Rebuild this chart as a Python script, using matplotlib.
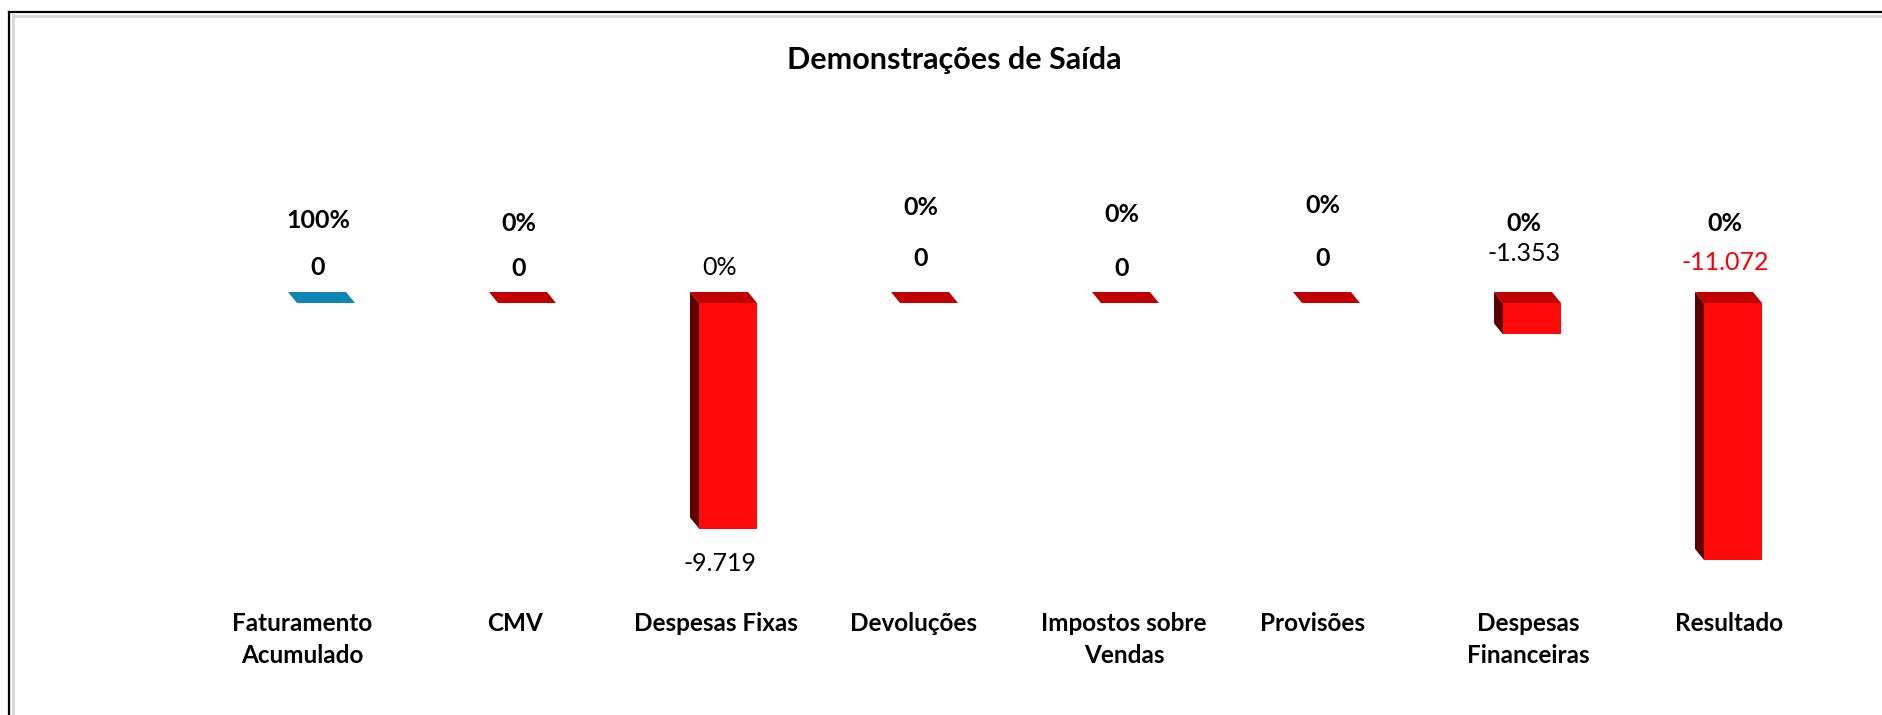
import matplotlib.pyplot as plt
from matplotlib.patches import Polygon
from matplotlib.lines import Line2D

plt.rcParams['font.family'] = ['Lato', 'DejaVu Sans']

categories = ['Faturamento\nAcumulado', 'CMV', 'Despesas Fixas', 'Devoluções',
              'Impostos sobre\nVendas', 'Provisões', 'Despesas\nFinanceiras', 'Resultado']
values = [0, 0, -9719, 0, 0, 0, -1353, -11072]
percents = [100, 0, 0, 0, 0, 0, 0, 0]

# label placement in pixels above the zero line (excel put them a bit all over the place)
pct_offsets = [83, 80, 36, 96, 89, 98, 80, 80]
val_offsets = [36, 35, -260, 45, 35, 45, 50, 41]
pct_bold = [True, True, False, True, True, True, True, True]
cat_dx = [-24, -12, -12, -15, -6, -18, -4, -4]

W, H = 1883, 715
BLUE = '#0f86b6'
RED_FRONT = '#ff0a0a'
RED_TOP = '#c00000'
RED_SIDE = '#5c0000'
BAR_W = 58 / 201
DEPTH = (-9, 11)  # px, back face goes up-left


def fmt(v):
    return f"{v:,}".replace(',', '.')


fig = plt.figure(figsize=(W / 100, H / 100), dpi=100)
ax = fig.add_axes([225.5 / W, (H - 600) / H, 1608 / W, 500 / H])
ax.set_xlim(-0.5, 7.5)
ax.set_ylim(-12800, 8750)
ax.axis('off')

# pixel -> data conversion for the fake 3d depth
p0 = ax.transData.transform((0, 0))
p1 = ax.transData.transform((1, 1000))
ddx = DEPTH[0] / (p1[0] - p0[0])
ddy = DEPTH[1] / (p1[1] - p0[1]) * 1000

for i, v in enumerate(values):
    left, right = i - BAR_W / 2, i + BAR_W / 2
    top_col = BLUE if i == 0 else RED_TOP
    ax.add_patch(Polygon([(left, 0), (right, 0), (right + ddx, ddy), (left + ddx, ddy)],
                         closed=True, facecolor=top_col, edgecolor='none'))
    if v != 0:
        ax.bar(i, v, width=BAR_W, color=RED_FRONT, edgecolor='none')
        ax.add_patch(Polygon([(left, 0), (left, v), (left + ddx, v + ddy), (left + ddx, ddy)],
                             closed=True, facecolor=RED_SIDE, edgecolor='none'))

    ax.annotate(f"{percents[i]}%", xy=(i, 0), xytext=(-8, pct_offsets[i]),
                textcoords='offset pixels', ha='center', va='center', fontsize=18,
                fontweight='bold' if pct_bold[i] else 'normal', color='black')
    vcol = '#ff0000' if i == len(values) - 1 else 'black'
    ax.annotate(fmt(v), xy=(i, 0), xytext=(-8, val_offsets[i]),
                textcoords='offset pixels', ha='center', va='center', fontsize=18,
                fontweight='bold' if v == 0 else 'normal', color=vcol)

    ax.annotate(categories[i], xy=(i, 0), xycoords=('data', 'axes fraction'),
                xytext=(cat_dx[i], -12), textcoords='offset pixels', ha='center', va='top',
                fontsize=17.5, fontweight='bold', linespacing=1.45, multialignment='center')

fig.text(954 / W, 1 - 60 / H, 'Demonstrações de Saída', ha='center', va='center',
         fontsize=22, fontweight='bold')

# chart frame, cropped on the right and bottom
fig.add_artist(Line2D([13 / W, 13 / W], [0, 1 - 15 / H], color='#d6d6d6', lw=2))
fig.add_artist(Line2D([13 / W, 1], [1 - 15.5 / H, 1 - 15.5 / H], color='#d6d6d6', lw=2))
fig.add_artist(Line2D([9.5 / W, 9.5 / W], [0, 1 - 12 / H], color='black', lw=1.6))
fig.add_artist(Line2D([9 / W, 1], [1 - 12 / H, 1 - 12 / H], color='black', lw=1.6))

fig.savefig('out.png', dpi=100, facecolor='white')
